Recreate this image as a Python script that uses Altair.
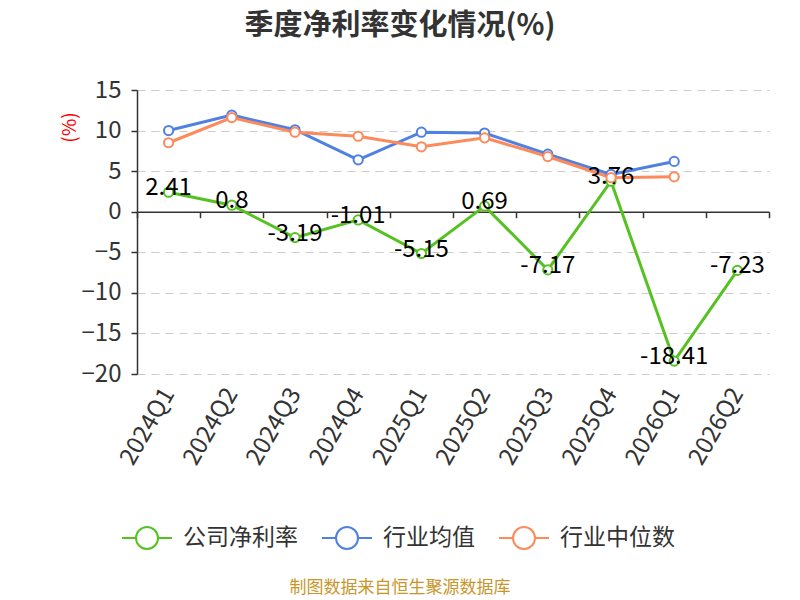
import altair as alt
import pandas as pd

quarters = ["2024Q1", "2024Q2", "2024Q3", "2024Q4", "2025Q1", "2025Q2",
            "2025Q3", "2025Q4", "2026Q1", "2026Q2"]
company = [2.41, 0.8, -3.19, -1.01, -5.15, 0.69, -7.17, 3.76, -18.41, -7.23]
ind_mean = [10.0, 11.9, 10.1, 6.4, 9.8, 9.7, 7.1, 4.6, 6.2, None]
ind_median = [8.5, 11.6, 9.8, 9.3, 8.0, 9.1, 6.8, 4.2, 4.3, None]

series_names = ["公司净利率", "行业均值", "行业中位数"]
series_colors = ["#56c222", "#4f80e2", "#fc8a5b"]

rows = []
for name, vals in [("行业均值", ind_mean), ("行业中位数", ind_median), ("公司净利率", company)]:
    for q, v in zip(quarters, vals):
        if v is not None:
            rows.append({"q": q, "v": v, "s": name})
df = pd.DataFrame(rows)
df_company = pd.DataFrame({"q": quarters, "v": company, "label": [f"{v:g}" for v in company]})

FONT = "Noto Sans CJK SC"
W, H = 632, 284
ymin, ymax = -20, 15
zero_offset = -H * (0 - ymin) / (ymax - ymin)

xenc = alt.X("q:N", sort=quarters, title=None,
             scale=alt.Scale(type="band", paddingInner=0, paddingOuter=0),
             axis=alt.Axis(offset=zero_offset, tickBand="extent", labelAngle=-60,
                           labelPadding=172, labelFontSize=24, labelColor="#333",
                           labelFont=FONT, domainColor="#333", domainWidth=1.5,
                           tickColor="#333", tickWidth=1.5, tickSize=6, grid=False))
yenc = alt.Y("v:Q", title="(%)",
             scale=alt.Scale(domain=[ymin, ymax], nice=False, zero=False),
             axis=alt.Axis(values=[-20, -15, -10, -5, 0, 5, 10, 15], labelFontSize=24,
                           labelColor="#333", labelFont=FONT, domainColor="#333",
                           domainWidth=1.5, tickColor="#333", tickSize=6, tickWidth=1.5,
                           gridDash=[8, 6], gridColor="#cccccc", gridWidth=1.2,
                           titleColor="#ff0000", titleFontSize=19, titleFontWeight="normal",
                           titleFont=FONT, titleX=-58, titleY=37, titleAngle=-90,
                           labelPadding=10))

color_scale = alt.Scale(domain=series_names, range=series_colors)
sym_path = "M-1,0L-0.44,0M0.44,0L1,0M0.44,0A0.44,0.44,0,1,1,-0.44,0A0.44,0.44,0,1,1,0.44,0"

lines = alt.Chart(df).mark_line(strokeWidth=3).encode(
    x=xenc, y=yenc,
    stroke=alt.Stroke("s:N", scale=color_scale, sort=series_names,
                      legend=alt.Legend(title=None, orient="none", direction="horizontal",
                                        legendX=-16, legendY=422, symbolType=sym_path,
                                        symbolSize=2500, symbolStrokeWidth=2,
                                        symbolFillColor="white", labelFontSize=23,
                                        labelColor="#333", labelFont=FONT,
                                        labelOffset=10, columnPadding=20)),
)
point_base = alt.Chart(df).mark_point(shape="circle", size=85, strokeWidth=2, fill="white",
                                      fillOpacity=1, opacity=1).encode(
    x=alt.X("q:N", sort=quarters), y="v:Q",
    stroke=alt.Stroke("s:N", scale=color_scale, legend=None),
)
company_points = point_base.transform_filter(alt.datum.s == "公司净利率")
industry_points = point_base.transform_filter(alt.datum.s != "公司净利率")
labels = alt.Chart(df_company).mark_text(fontSize=24, color="black", font=FONT,
                                         baseline="middle", dy=-4).encode(
    x=alt.X("q:N", sort=quarters), y="v:Q", text="label:N"
)
footer = alt.Chart(pd.DataFrame({"t": ["制图数据来自恒生聚源数据库"]})).mark_text(
    fontSize=17, color="#c9962a", font=FONT, baseline="middle", align="center"
).encode(x=alt.value(263), y=alt.value(498), text="t:N")

chart = alt.layer(lines, company_points, labels, industry_points, footer).properties(
    width=W, height=H,
    title=alt.TitleParams("季度净利率变化情况(%)", fontSize=29, fontWeight="bold",
                          color="#333", font=FONT, anchor="middle", frame="group",
                          dx=-53, offset=37),
    autosize=alt.AutoSizeParams(type="none"),
    padding={"left": 129, "top": 82, "right": 23, "bottom": 226},
).configure(background="white").configure_view(stroke=None)

chart.save("out.html", embed_options={"renderer": "svg", "actions": False})
